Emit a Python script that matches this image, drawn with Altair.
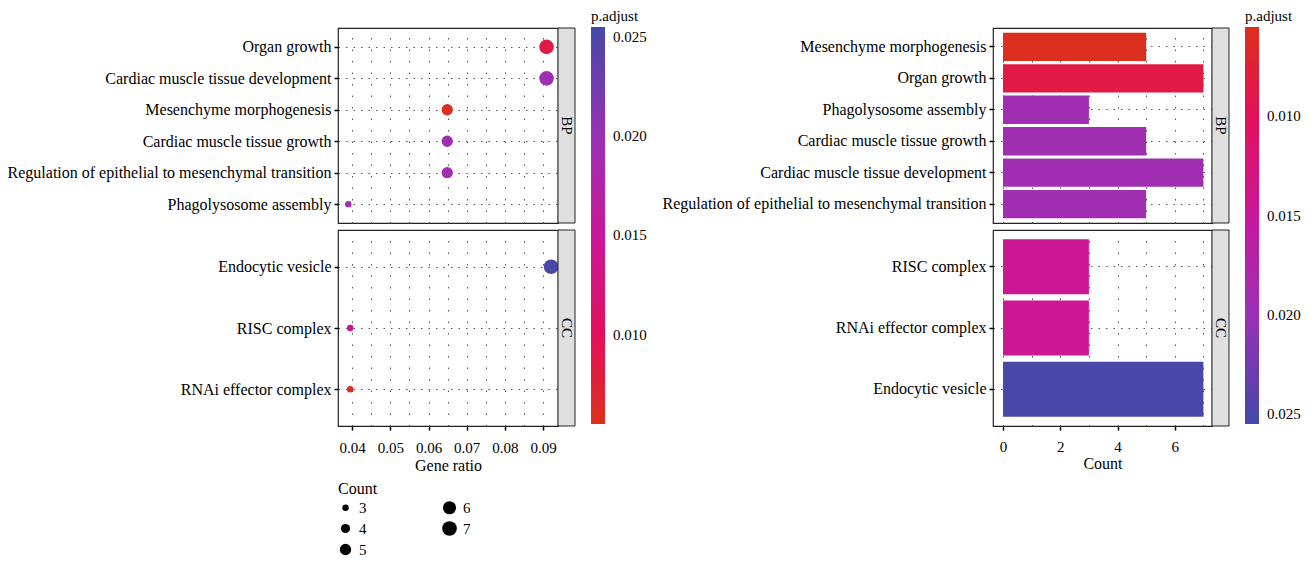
import altair as alt
import pandas as pd

FONT = "Liberation Serif"
FS = 15        # tick / legend label size
FS_T = 16      # title size
FS_Y = 16      # category label size

# ---------------- data: left (dot plot) ----------------
bp_terms_dot = ["Organ growth", "Cardiac muscle tissue development", "Mesenchyme morphogenesis",
                "Cardiac muscle tissue growth", "Regulation of epithelial to mesenchymal transition",
                "Phagolysosome assembly"]
bp_ratio_dot = [0.0909, 0.0909, 0.0649, 0.0649, 0.0649, 0.0390]
bp_count_dot = [7, 7, 5, 5, 5, 3]
bp_padj_dot = [0.0085, 0.0195, 0.0057, 0.0195, 0.0195, 0.0195]

cc_terms_dot = ["Endocytic vesicle", "RISC complex", "RNAi effector complex"]
cc_ratio_dot = [0.0921, 0.0395, 0.0395]
cc_count_dot = [7, 3, 3]
cc_padj_dot = [0.0252, 0.0145, 0.0060]

# ---------------- data: right (bar chart) ----------------
bp_terms_bar = ["Mesenchyme morphogenesis", "Organ growth", "Phagolysosome assembly",
                "Cardiac muscle tissue growth", "Cardiac muscle tissue development",
                "Regulation of epithelial to mesenchymal transition"]
bp_count_bar = [5, 7, 3, 5, 7, 5]
bp_padj_bar = [0.0057, 0.0085, 0.0195, 0.0195, 0.0195, 0.0195]

cc_terms_bar = ["RISC complex", "RNAi effector complex", "Endocytic vesicle"]
cc_count_bar = [3, 3, 7]
cc_padj_bar = [0.0145, 0.0145, 0.0252]

# colour gradient stops (p.adjust -> colour)
p_stops = [0.0055, 0.010, 0.015, 0.020, 0.0255]
c_stops = ["#dc2f1c", "#e2105a", "#c9189a", "#9a30b4", "#4449a8"]
p_ticks = [0.010, 0.015, 0.020, 0.025]
size_ticks = [3, 4, 5, 6, 7]

W_L, W_R = 220, 219
H_BP, H_CC = 195, 196

GRID = "#555555"

def y_axis():
    return alt.Axis(title=None, labelFont=FONT, labelFontSize=FS_Y, labelColor="black",
                    tickColor="black", tickSize=4, tickWidth=1.5, domain=False,
                    grid=True, gridColor=GRID, gridDash=[1.5, 6], gridWidth=1,
                    labelPadding=3, labelLimit=500, bandPosition=0.5)

def strip(label, w, h):
    sdf = pd.DataFrame({"strip": [label]})
    rect = alt.Chart(sdf).mark_rect(fill="#e0e0e0", stroke="#222222", strokeWidth=1).encode(
        x=alt.value(w), x2=alt.value(w + 17), y=alt.value(0), y2=alt.value(h))
    txt = alt.Chart(sdf).mark_text(angle=90, font=FONT, fontSize=FS, color="black",
                                   align="center", baseline="middle").encode(
        x=alt.value(w + 8.5), y=alt.value(h / 2), text="strip:N")
    return [rect, txt]

def color_legend(x):
    return alt.Legend(orient="none", legendX=x, legendY=-19, title="p.adjust",
                      titleFont=FONT, titleFontSize=FS, titleFontWeight="normal",
                      titleColor="black", labelFont=FONT, labelFontSize=FS,
                      labelColor="black", gradientLength=397, gradientThickness=14,
                      values=p_ticks, format=".3f", labelOffset=8, titlePadding=3,
                      direction="vertical", gradientStrokeWidth=0)

ratio_grid = [0.04, 0.045, 0.05, 0.055, 0.06, 0.065, 0.07, 0.075, 0.08, 0.085, 0.09]
major_test_ratio = "abs(datum.value*100 - round(datum.value*100)) < 0.01"

def dot_panel(terms, ratio, count, padj, label, h, bottom, show_color, show_size):
    df = pd.DataFrame({"Description": terms, "GeneRatio": ratio, "Count": count, "padj": padj})
    if bottom:
        xax = alt.Axis(values=ratio_grid, title="Gene ratio", titleFont=FONT, titleFontSize=FS_T,
                       titleFontWeight="normal", titleColor="black", titlePadding=2,
                       labelFont=FONT, labelFontSize=FS, labelColor="black",
                       labelExpr=f"{major_test_ratio} ? format(datum.value, '.2f') : ''",
                       labelOverlap=False, labelFlush=False, labelPadding=10,
                       tickColor="black", tickSize=4, tickWidth=1.5,
                       tickOpacity={"condition": {"test": major_test_ratio, "value": 1}, "value": 0},
                       domain=False, grid=True, gridColor=GRID, gridDash=[1.5, 10])
    else:
        xax = alt.Axis(values=ratio_grid, title=None, labels=False, ticks=False, domain=False,
                       grid=True, gridColor=GRID, gridDash=[1.5, 10], maxExtent=0)
    cleg = color_legend(253) if show_color else None
    if show_size:
        sleg = alt.Legend(orient="none", legendX=0, legendY=251, title="Count",
                          titleFont=FONT, titleFontSize=FS_T, titleFontWeight="normal",
                          titleColor="black", labelFont=FONT, labelFontSize=FS,
                          labelColor="black", columns=2, values=size_ticks,
                          symbolFillColor="black", symbolStrokeWidth=0, symbolOpacity=1,
                          symbolType="circle", columnPadding=75, rowPadding=5,
                          labelOffset=6, titlePadding=3)
    else:
        sleg = None
    pts = alt.Chart(df).mark_circle(opacity=1).encode(
        x=alt.X("GeneRatio:Q", scale=alt.Scale(domain=[0.0363, 0.0939], nice=False, zero=False),
                axis=xax),
        y=alt.Y("Description:N", sort=terms, scale=alt.Scale(type="point", padding=0.6),
                axis=y_axis()),
        size=alt.Size("Count:Q", scale=alt.Scale(domain=[3, 7], range=[42, 215], zero=False),
                      legend=sleg),
        color=alt.Color("padj:Q", scale=alt.Scale(domain=p_stops, range=c_stops,
                                                   interpolate="rgb"),
                        legend=cleg),
    )
    return alt.layer(pts, *strip(label, W_L, h)).properties(width=W_L, height=h)

count_grid = [0, 1, 2, 3, 4, 5, 6, 7]
major_test_count = "datum.value % 2 == 0"

def bar_panel(terms, count, padj, label, h, bottom, show_color):
    df = pd.DataFrame({"Description": terms, "Count": count, "padj": padj})
    if bottom:
        xax = alt.Axis(values=count_grid, title="Count", titleFont=FONT, titleFontSize=FS_T,
                       titleFontWeight="normal", titleColor="black", titlePadding=1,
                       labelFont=FONT, labelFontSize=FS, labelColor="black",
                       labelExpr=f"{major_test_count} ? datum.value : ''",
                       labelOverlap=False, labelFlush=False, labelPadding=9,
                       tickColor="black", tickSize=4, tickWidth=1.5,
                       tickOpacity={"condition": {"test": major_test_count, "value": 1}, "value": 0},
                       domain=False, grid=True, gridColor=GRID, gridDash=[1.5, 10])
    else:
        xax = alt.Axis(values=count_grid, title=None, labels=False, ticks=False, domain=False,
                       grid=True, gridColor=GRID, gridDash=[1.5, 10], maxExtent=0)
    cleg = color_legend(252) if show_color else None
    bars = alt.Chart(df).mark_bar().encode(
        x=alt.X("Count:Q", scale=alt.Scale(domain=[-0.35, 7.3], nice=False, zero=False), axis=xax),
        y=alt.Y("Description:N", sort=terms,
                scale=alt.Scale(paddingInner=0.1, paddingOuter=0.15), axis=y_axis()),
        color=alt.Color("padj:Q", scale=alt.Scale(domain=p_stops[::-1], range=c_stops[::-1],
                                                   interpolate="rgb"),
                        legend=cleg),
    )
    return alt.layer(bars, *strip(label, W_R, h)).properties(width=W_R, height=h)

left_bp = dot_panel(bp_terms_dot, bp_ratio_dot, bp_count_dot, bp_padj_dot, "BP", H_BP, False, True, False)
left_cc = dot_panel(cc_terms_dot, cc_ratio_dot, cc_count_dot, cc_padj_dot, "CC", H_CC, True, False, True)
right_bp = bar_panel(bp_terms_bar, bp_count_bar, bp_padj_bar, "BP", H_BP, False, True)
right_cc = bar_panel(cc_terms_bar, cc_count_bar, cc_padj_bar, "CC", H_CC, True, False)

chart = alt.concat(left_bp, right_bp, left_cc, right_cc, columns=2,
                   spacing={"row": 7, "column": 435}, bounds="flush").resolve_scale(
    color="independent", size="independent", x="independent", y="independent"
).properties(
    padding={"left": 6, "top": 8, "right": 5, "bottom": 5}
).configure_view(
    stroke="#222222", strokeWidth=1.2
)

chart.save("out.html", embed_options={"renderer": "svg", "actions": False})
